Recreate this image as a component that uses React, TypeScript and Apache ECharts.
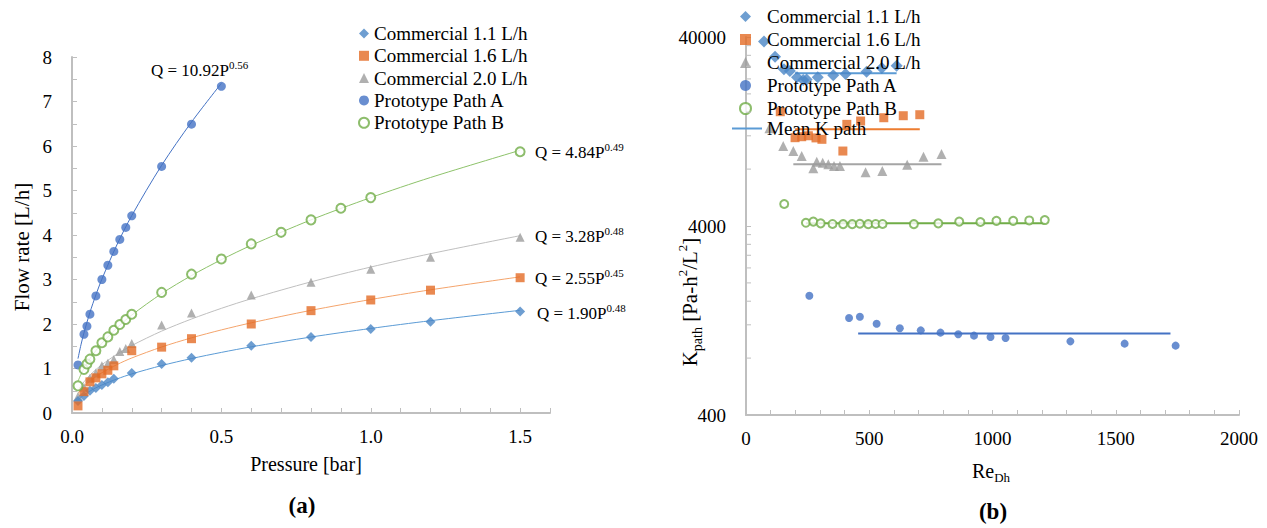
import React, { useEffect, useRef } from 'react';
import * as echarts from 'echarts';

const FONT = '"Liberation Serif", "Times New Roman", serif';

// ---------- Panel (a): flow rate vs pressure ----------
const P_COMM = [0.02, 0.04, 0.06, 0.08, 0.10, 0.12, 0.14, 0.20, 0.30, 0.40, 0.60, 0.80, 1.00, 1.20, 1.50];
const Q_C11 = [0.27, 0.38, 0.50, 0.56, 0.63, 0.69, 0.77, 0.90, 1.10, 1.24, 1.51, 1.71, 1.89, 2.05, 2.28];
const Q_C16 = [0.16, 0.48, 0.70, 0.79, 0.88, 0.96, 1.06, 1.40, 1.48, 1.67, 2.00, 2.30, 2.54, 2.76, 3.04];
const P_C20 = [0.02, 0.04, 0.06, 0.08, 0.10, 0.12, 0.14, 0.16, 0.18, 0.20, 0.30, 0.40, 0.60, 0.80, 1.00, 1.20, 1.50];
const Q_C20 = [0.37, 0.58, 0.78, 0.90, 1.06, 1.12, 1.20, 1.38, 1.45, 1.56, 1.98, 2.25, 2.65, 2.94, 3.23, 3.50, 3.95];
const P_PA = [0.02, 0.04, 0.05, 0.06, 0.08, 0.10, 0.12, 0.14, 0.16, 0.18, 0.20, 0.30, 0.40, 0.50];
const Q_PA = [1.08, 1.77, 1.95, 2.22, 2.63, 3.00, 3.32, 3.63, 3.90, 4.17, 4.43, 5.54, 6.49, 7.34];
const P_PB = [0.02, 0.04, 0.05, 0.06, 0.08, 0.10, 0.12, 0.14, 0.16, 0.18, 0.20, 0.30, 0.40, 0.50, 0.60, 0.70, 0.80, 0.90, 1.00, 1.50];
const Q_PB = [0.61, 0.98, 1.10, 1.21, 1.40, 1.58, 1.71, 1.86, 1.99, 2.10, 2.22, 2.71, 3.12, 3.46, 3.80, 4.06, 4.34, 4.60, 4.84, 5.87];

// power-law trend lines (values at sampled pressures)
const P_FIT_A = [0.02, 0.03, 0.04, 0.06, 0.08, 0.10, 0.15, 0.20, 0.30, 0.40, 0.50];
const FIT_PA = [1.221, 1.532, 1.800, 2.260, 2.654, 3.007, 3.775, 4.435, 5.565, 6.538, 7.408];
const P_FIT = [0.02, 0.03, 0.04, 0.06, 0.08, 0.10, 0.15, 0.20, 0.30, 0.40, 0.50, 0.60, 0.80, 1.00, 1.20, 1.50];
const FIT_PB = [0.712, 0.868, 1.000, 1.220, 1.404, 1.567, 1.910, 2.201, 2.683, 3.089, 3.445, 3.768, 4.340, 4.840, 5.292, 5.904];
const FIT_C20 = [0.502, 0.609, 0.700, 0.850, 0.976, 1.086, 1.319, 1.516, 1.840, 2.112, 2.352, 2.567, 2.947, 3.280, 3.580, 3.985];
const FIT_C16 = [0.439, 0.526, 0.599, 0.719, 0.818, 0.905, 1.086, 1.236, 1.483, 1.689, 1.867, 2.026, 2.307, 2.550, 2.768, 3.060];
const FIT_C11 = [0.291, 0.353, 0.405, 0.492, 0.565, 0.629, 0.764, 0.878, 1.066, 1.224, 1.362, 1.487, 1.707, 1.900, 2.074, 2.308];

const EQ_COEF = ['10.92', '4.84', '3.28', '2.55', '1.90'];
const EQ_EXP = ['0.56', '0.49', '0.48', '0.45', '0.48'];

// ---------- Panel (b): K_path vs Re_Dh ----------
const RE_C11 = [73, 118, 154, 178, 207, 232, 246, 291, 354, 404, 489, 551, 611];
const K_C11 = [37900, 31480, 27000, 26400, 24480, 23700, 23800, 24480, 25100, 25500, 26200, 27400, 28200];
const RE_C16 = [139, 199, 226, 253, 284, 308, 393, 409, 465, 559, 638, 705];
const K_C16 = [16100, 11730, 11870, 12010, 11700, 11500, 9970, 13800, 14370, 14960, 15330, 15520];
const RE_C20 = [95, 151, 192, 226, 273, 287, 311, 334, 357, 381, 485, 553, 654, 720, 793];
const K_C20 = [13150, 10600, 9970, 9380, 8080, 8750, 8650, 8480, 8300, 8300, 7690, 7820, 8440, 9310, 9620];
const RE_PA = [257, 418, 462, 530, 624, 709, 789, 861, 925, 992, 1053, 1316, 1536, 1743];
const K_PA = [1711, 1304, 1325, 1216, 1150, 1122, 1091, 1069, 1052, 1035, 1022, 981, 954, 931];
const RE_PB = [155, 243, 273, 303, 351, 394, 431, 462, 496, 526, 554, 681, 780, 865, 951, 1016, 1084, 1149, 1212];
const K_PB = [5230, 4160, 4220, 4130, 4100, 4090, 4090, 4110, 4090, 4100, 4100, 4090, 4130, 4220, 4200, 4260, 4260, 4280, 4300];

// mean K path lines: C11, C16, C20, PA, PB
const MEAN_K = [25700, 13000, 8480, 1080, 4130];
const MEAN_RE_FROM = [199, 199, 192, 455, 243];
const MEAN_RE_TO = [611, 705, 793, 1722, 1212];

const K_AXIS_BASE = 400;
const K_MINOR_TICKS = [800, 1200, 1600, 2000, 2400, 2800, 3200, 3600, 8000, 12000, 16000, 20000, 24000, 28000, 32000, 36000];

const NAMES = ['Commercial 1.1 L/h', 'Commercial 1.6 L/h', 'Commercial 2.0 L/h', 'Prototype Path A', 'Prototype Path B'];
const MARK = ['#4A86C5', '#E36C25', '#9C9C9C', '#4472C4', '#70AD47'];
const TREND = ['#5B9BD5', '#F4A46C', '#BFBFBF', '#4472C4', '#8DC26A'];
const MEANC = ['#5B9BD5', '#ED7D31', '#A5A5A5', '#4472C4', '#70AD47'];

const zip = (xs: number[], ys: number[]) => xs.map((x, i) => [x, ys[i]]);
const lg = (k: number) => Math.log10(k / K_AXIS_BASE);
const zipK = (xs: number[], ks: number[]) => xs.map((x, i) => [x, lg(ks[i])]);

const AXIS_GREY = '#BFBFBF';

export default function App() {
  const ref = useRef<HTMLDivElement>(null);
  useEffect(() => {
    if (!ref.current) return;
    const chart = echarts.init(ref.current, undefined, { renderer: 'svg' });

    const labelStyle = { fontFamily: FONT, fontSize: 19, color: '#000' };
    const axisLine = { show: true, lineStyle: { color: AXIS_GREY, width: 2 } };
    const axisTick = { show: true, inside: true, length: 5, lineStyle: { color: AXIS_GREY, width: 1 } };

    const richBase = {
      n: { fontFamily: FONT, fontSize: 21, lineHeight: 28, color: '#000' },
      sub: { fontFamily: FONT, fontSize: 14, lineHeight: 14, verticalAlign: 'bottom', color: '#000' },
      sup: { fontFamily: FONT, fontSize: 13, lineHeight: 14, verticalAlign: 'top', color: '#000' },
    };
    const reRich = {
      n: { fontFamily: FONT, fontSize: 20, lineHeight: 26, color: '#000' },
      sub: { fontFamily: FONT, fontSize: 13, lineHeight: 13, verticalAlign: 'bottom', color: '#000' },
    };
    const eqRich = {
      n: { fontFamily: FONT, fontSize: 17, lineHeight: 22, color: '#000' },
      sup: { fontFamily: FONT, fontSize: 11, lineHeight: 12, verticalAlign: 'top', color: '#000' },
    };
    const eqPos = [[151, 70], [535, 152], [535, 236], [535, 278], [537, 313]];

    const commSym = ['diamond', 'rect', 'triangle', 'circle', 'emptyCircle'];
    const leftData = [zip(P_COMM, Q_C11), zip(P_COMM, Q_C16), zip(P_C20, Q_C20), zip(P_PA, Q_PA), zip(P_PB, Q_PB)];
    const leftSize = [10, 9, 9, 9, 9];
    const fits = [
      zip(P_FIT, FIT_C11), zip(P_FIT, FIT_C16), zip(P_FIT, FIT_C20), zip(P_FIT_A, FIT_PA), zip(P_FIT, FIT_PB),
    ];
    const rightData = [zipK(RE_C11, K_C11), zipK(RE_C16, K_C16), zipK(RE_C20, K_C20), zipK(RE_PA, K_PA), zipK(RE_PB, K_PB)];
    const rightSize = [12, 9, 10, 8, 8];
    const order = [2, 0, 1, 3, 4];

    const series: any[] = [];
    fits.forEach((d, i) => {
      series.push({
        name: 'trend ' + NAMES[i], type: 'line', xAxisIndex: 0, yAxisIndex: 0, data: d,
        smooth: 0.3, symbol: 'none', silent: true, z: 1,
        lineStyle: { color: TREND[i], width: 1 },
      });
    });
    order.forEach((i) => {
      series.push({
        name: NAMES[i], type: 'scatter', xAxisIndex: 0, yAxisIndex: 0, data: leftData[i],
        symbol: commSym[i], symbolSize: leftSize[i], z: 3,
        itemStyle: i === 4
          ? { color: MARK[i], borderColor: MARK[i], borderWidth: 2 }
          : { color: MARK[i] },
      });
    });
    MEAN_K.forEach((k, i) => {
      series.push({
        name: i === 0 ? 'Mean K path' : 'Mean K ' + NAMES[i], type: 'line', xAxisIndex: 1, yAxisIndex: 1,
        data: [[MEAN_RE_FROM[i], lg(k)], [MEAN_RE_TO[i], lg(k)]],
        symbol: 'none', silent: true, z: 2,
        lineStyle: { color: MEANC[i], width: 2 },
        itemStyle: { color: MEANC[i] },
      });
    });
    order.forEach((i) => {
      series.push({
        name: NAMES[i], type: 'scatter', xAxisIndex: 1, yAxisIndex: 1, data: rightData[i],
        symbol: commSym[i], symbolSize: rightSize[i], z: 3,
        itemStyle: i === 4
          ? { color: MARK[i], borderColor: MARK[i], borderWidth: 2 }
          : { color: MARK[i] },
      });
    });
    series.push({
      name: 'minor ticks', type: 'custom', xAxisIndex: 1, yAxisIndex: 1, silent: true, clip: false, z: 5,
      data: K_MINOR_TICKS.map((k) => [0, lg(k)]),
      renderItem: (params: any, api: any) => {
        const p = api.coord([0, api.value(1)]);
        return {
          type: 'line',
          shape: { x1: p[0], y1: p[1], x2: p[0] + 5, y2: p[1] },
          style: { stroke: AXIS_GREY, lineWidth: 1 },
        };
      },
    });

    const graphic: any[] = [
      {
        type: 'text', x: 22, y: 247, rotation: Math.PI / 2,
        style: { text: 'Flow rate [L/h]', fontFamily: FONT, fontSize: 21, fill: '#000', align: 'center', verticalAlign: 'middle' },
      },
      {
        type: 'text', x: 306, y: 464,
        style: { text: 'Pressure [bar]', fontFamily: FONT, fontSize: 20, fill: '#000', align: 'center', verticalAlign: 'middle' },
      },
      {
        type: 'text', x: 302, y: 505,
        style: { text: '(a)', fontFamily: FONT, fontSize: 23, fontWeight: 'bold', fill: '#000', align: 'center', verticalAlign: 'middle' },
      },
      {
        type: 'text', x: 690, y: 302, rotation: Math.PI / 2,
        style: {
          text: '{n|K}{sub|path}{n| [Pa-h}{sup|2}{n|/L}{sup|2}{n|]}',
          rich: richBase, align: 'center', verticalAlign: 'middle',
        },
      },
      {
        type: 'text', x: 991, y: 471,
        style: { text: '{n|Re}{sub|Dh}', rich: reRich, align: 'center', verticalAlign: 'middle' },
      },
      {
        type: 'text', x: 993, y: 511,
        style: { text: '(b)', fontFamily: FONT, fontSize: 23, fontWeight: 'bold', fill: '#000', align: 'center', verticalAlign: 'middle' },
      },
    ];
    EQ_COEF.forEach((c, i) => {
      graphic.push({
        type: 'text', x: eqPos[i][0], y: eqPos[i][1],
        style: {
          text: `{n|Q = ${c}P}{sup|${EQ_EXP[i]}}`,
          rich: eqRich, align: 'left', verticalAlign: 'middle',
        },
      });
    });

    const legendText = { fontFamily: FONT, fontSize: 19, color: '#000' };

    chart.setOption({
      animation: false,
      backgroundColor: '#fff',
      textStyle: { fontFamily: FONT },
      grid: [
        { left: 72, top: 57, width: 478, height: 356, containLabel: false },
        { left: 746, top: 37, width: 493, height: 378, containLabel: false },
      ],
      xAxis: [
        {
          gridIndex: 0, type: 'value', min: 0, max: 1.6, interval: 0.1,
          axisLine, axisTick, splitLine: { show: false },
          axisLabel: {
            ...labelStyle, margin: 14, interval: 0, showMinLabel: true, showMaxLabel: true,
            formatter: (v: number) => (Math.abs(v * 2 - Math.round(v * 2)) < 1e-6 ? v.toFixed(1) : ''),
          },
        },
        {
          gridIndex: 1, type: 'value', min: 0, max: 2000, interval: 100,
          axisLine, axisTick, splitLine: { show: false },
          axisLabel: {
            ...labelStyle, margin: 14, interval: 0,
            formatter: (v: number) => (Math.round(v) % 500 === 0 ? String(Math.round(v)) : ''),
          },
        },
      ],
      yAxis: [
        {
          gridIndex: 0, type: 'value', min: 0, max: 8, interval: 0.5,
          axisLine, axisTick, splitLine: { show: false },
          axisLabel: {
            ...labelStyle, margin: 20, interval: 0,
            formatter: (v: number) => (Math.abs(v - Math.round(v)) < 1e-6 ? String(Math.round(v)) : ''),
          },
        },
        {
          gridIndex: 1, type: 'value', min: 0, max: 2, interval: 1,
          axisLine, axisTick, splitLine: { show: false },
          axisLabel: {
            ...labelStyle, margin: 20,
            formatter: (v: number) => String(Math.round(K_AXIS_BASE * Math.pow(10, v))),
          },
        },
      ],
      legend: [
        {
          orient: 'vertical', left: 353, top: 19, itemWidth: 10, itemHeight: 10, itemGap: 3.3,
          data: NAMES, selectedMode: false,
          textStyle: legendText,
        },
        {
          orient: 'vertical', left: 734, top: 2, itemWidth: 11, itemHeight: 11, itemGap: 4,
          data: NAMES, selectedMode: false,
          formatter: '{pad| }{t|{name}}',
          textStyle: {
            ...legendText,
            rich: { pad: { width: 11 }, t: legendText },
          },
        },
        {
          orient: 'vertical', left: 727, top: 114, itemWidth: 30, itemHeight: 2,
          data: [{ name: 'Mean K path', icon: 'rect' }], selectedMode: false,
          textStyle: legendText,
        },
      ],
      graphic,
      series,
    });
    return () => chart.dispose();
  }, []);

  return (
    <div
      ref={ref}
      style={{ position: 'absolute', left: 0, top: 0, width: 1267, height: 528, background: '#fff' }}
    />
  );
}
